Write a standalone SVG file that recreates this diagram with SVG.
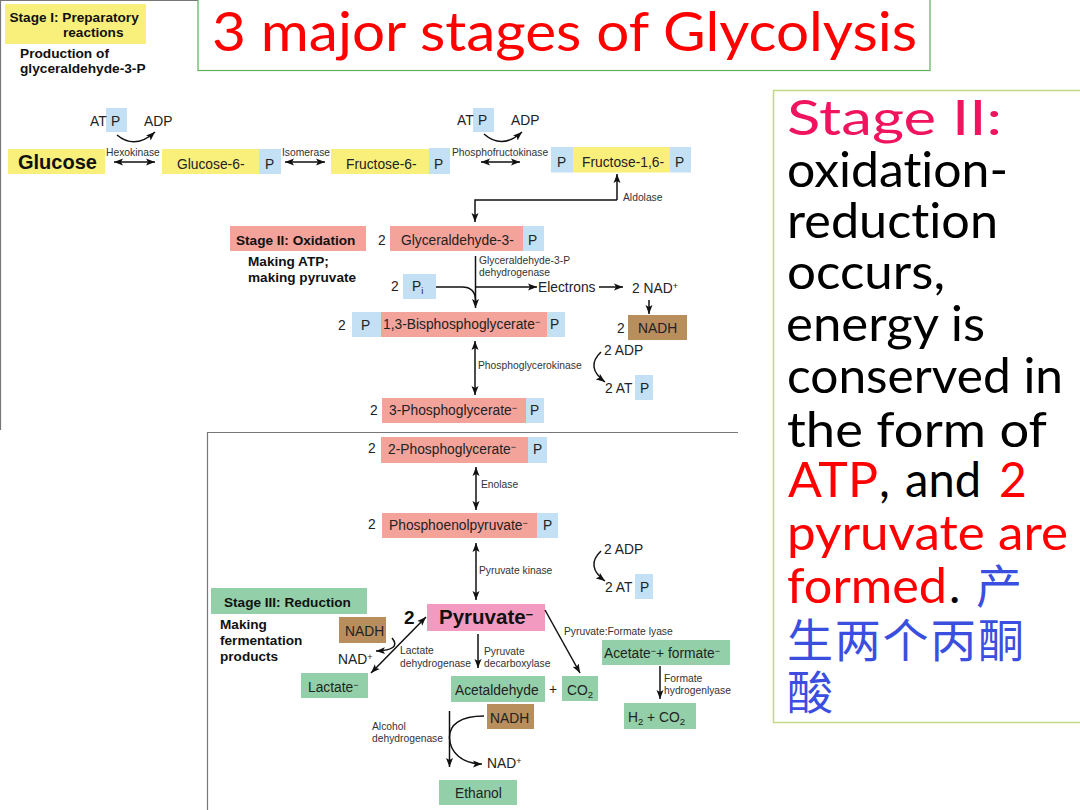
<svg xmlns="http://www.w3.org/2000/svg" width="1080" height="810" viewBox="0 0 1080 810">
<style>
text{font-family:"Liberation Sans",Arial,sans-serif;fill:#222;font-size:13.800px}
.b{font-weight:bold;fill:#111;font-size:13.600px}
.bb{font-size:13.700px}
.s{font-size:10.300px;fill:#333}
.big{font-family:Lato,"Noto Sans","Noto Sans CJK SC",sans-serif;font-size:48px;fill:#000;font-variant-ligatures:none}
.ttl{font-size:54px}
.red{fill:#f00}.pk{fill:#f0135f}
.cjk{font-family:"Noto Sans CJK SC",sans-serif;font-size:46px;fill:#3a4fe0}
.y{fill:#f9f07c}.bl{fill:#c4e0f4}.r{fill:#f4a39a}.g{fill:#93cfa8}.br{fill:#b88e5c}.pn{fill:#f29ac0}
.c{fill:none;stroke:#111;stroke-width:1.500}
.a{marker-end:url(#ah)}
.d{marker-start:url(#as);marker-end:url(#ah)}
.p{fill:none;stroke:#777;stroke-width:1.200}
.sup{font-size:9px}.sub{font-size:9.500px}
</style>
<defs>
<marker id="ah" markerUnits="userSpaceOnUse" markerWidth="10" markerHeight="8" refX="9" refY="4" orient="auto"><path d="M0 0.500L9 4L0 7.500L2 4Z" fill="#111"/></marker>
<marker id="as" markerUnits="userSpaceOnUse" markerWidth="10" markerHeight="8" refX="1" refY="4" orient="auto"><path d="M10 0.500L1 4L10 7.500L8 4Z" fill="#111"/></marker>
</defs>
<rect width="1080" height="810" fill="#fff"/>
<path class="p" d="M710 0.500H0.500V430"/>
<path class="p" d="M207.500 810V432.500H738"/>

<g id="title"><rect x="198" y="-2" width="732" height="72.500" fill="#fff" stroke="#5cb05c" stroke-width="1.200"/>
<text class="big ttl red" x="212" y="51" textLength="705" lengthAdjust="spacingAndGlyphs">3 major stages of Glycolysis</text></g>

<g id="side-note"><rect x="773.500" y="90.500" width="310" height="632" fill="#fff" stroke="#c4d88a" stroke-width="1.500"/>
<text class="big pk" x="787" y="135" textLength="215" lengthAdjust="spacingAndGlyphs">Stage II:</text>
<text class="big" x="787" y="187" textLength="221" lengthAdjust="spacingAndGlyphs">oxidation-</text>
<text class="big" x="787" y="238" textLength="211" lengthAdjust="spacingAndGlyphs">reduction</text>
<text class="big" x="787" y="289" textLength="158" lengthAdjust="spacingAndGlyphs">occurs,</text>
<text class="big" x="786" y="341" textLength="199" lengthAdjust="spacingAndGlyphs">energy is</text>
<text class="big" x="787" y="393" textLength="276" lengthAdjust="spacingAndGlyphs">conserved in</text>
<text class="big" x="787" y="447" textLength="260" lengthAdjust="spacingAndGlyphs">the form of</text>
<text class="big red" x="788" y="497" textLength="90" lengthAdjust="spacingAndGlyphs">ATP</text>
<text class="big" x="879" y="497">,</text>
<text class="big" x="905" y="497" textLength="76" lengthAdjust="spacingAndGlyphs">and</text>
<text class="big red" x="999" y="497">2</text>
<text class="big red" x="787" y="550" textLength="281" lengthAdjust="spacingAndGlyphs">pyruvate are</text>
<text class="big red" x="787" y="603" textLength="160" lengthAdjust="spacingAndGlyphs">formed</text>
<text class="big" x="949" y="603">.</text>
<text class="cjk" x="976" y="603">产</text>
<text class="cjk" x="787" y="657" textLength="237">生两个丙酮</text>
<text class="cjk" x="787" y="709">酸</text></g>

<g id="stage1-label"><rect class="y" x="5" y="4" width="141" height="40"/>
<text class="b" x="9.500" y="22">Stage I: Preparatory</text><text class="b" x="63" y="37">reactions</text>
<text class="b bb" x="20" y="58">Production of</text><text class="b bb" x="20" y="73">glyceraldehyde-3-P</text></g>

<g id="atp1"><rect class="bl" x="106" y="108" width="21" height="24"/><text x="90" y="126">AT</text><text x="111" y="126">P</text><text x="144" y="126">ADP</text></g>
<g id="glucose"><rect class="y" x="8" y="149" width="97" height="25"/><text class="b" x="18" y="169" style="font-size:20px">Glucose</text></g>
<g id="g6p"><rect class="y" x="162" y="149" width="97" height="25"/><rect class="bl" x="259" y="149" width="22" height="25"/><text x="177" y="169">Glucose-6-</text><text x="265" y="169">P</text></g>
<g id="f6p"><rect class="y" x="331" y="149" width="98" height="25"/><rect class="bl" x="429" y="148" width="21" height="26"/><text x="346" y="169">Fructose-6-</text><text x="434" y="169">P</text></g>
<g id="atp2"><rect class="bl" x="473" y="108" width="21" height="24"/><text x="457" y="125">AT</text><text x="478" y="125">P</text><text x="511" y="125">ADP</text></g>
<g id="f16bp"><rect class="bl" x="551" y="147" width="22" height="25.500"/><rect class="y" x="573" y="147" width="97" height="25.500"/><rect class="bl" x="670" y="147" width="21" height="25.500"/><text x="557" y="167">P</text><text x="582" y="167">Fructose-1,6-</text><text x="675" y="167">P</text></g>

<g id="stage2-label"><rect class="r" x="230" y="226" width="136" height="25"/><text class="b" x="236" y="245">Stage II: Oxidation</text>
<text class="b" x="248" y="266">Making ATP;</text><text class="b" x="248" y="282">making pyruvate</text></g>
<g id="g3p"><text x="378" y="245">2</text><rect class="r" x="390" y="226" width="133" height="25"/><rect class="bl" x="523" y="226" width="21" height="25"/><text x="401" y="245">Glyceraldehyde-3-</text><text x="528" y="245">P</text></g>
<g id="pi"><text x="391" y="291">2</text><rect class="bl" x="403" y="274" width="33" height="25"/><text x="412" y="291">P<tspan class="sub" dy="3">i</tspan></text></g>
<g id="electrons"><text x="538" y="292">Electrons</text></g>
<g id="nad1"><text x="632" y="293">2 NAD<tspan class="sup" dy="-4">+</tspan></text></g>
<g id="nadh1"><text x="617" y="333">2</text><rect class="br" x="628" y="315" width="59" height="25"/><text x="638" y="333">NADH</text></g>
<g id="bpg"><text x="338" y="330">2</text><rect class="bl" x="352" y="312" width="29" height="25"/><rect class="r" x="381" y="312" width="166" height="25"/><rect class="bl" x="547" y="312" width="18" height="25"/><text x="361" y="330">P</text><text x="383" y="329">1,3-Bisphosphoglycerate<tspan class="sup" dy="-4">−</tspan></text><text x="550" y="329">P</text></g>
<g id="adp3"><text x="604" y="355">2 ADP</text></g>
<g id="atp3"><text x="605" y="393">2 AT</text><rect class="bl" x="635" y="375" width="18" height="25"/><text x="640" y="393">P</text></g>
<g id="pg3"><text x="370" y="415">2</text><rect class="r" x="382" y="398" width="144" height="25"/><rect class="bl" x="526" y="398" width="18" height="25"/><text x="389" y="415">3-Phosphoglycerate<tspan class="sup" dy="-4">−</tspan></text><text x="530" y="415">P</text></g>
<g id="pg2"><text x="368" y="453">2</text><rect class="r" x="381" y="437" width="147" height="26"/><rect class="bl" x="528" y="437" width="19" height="26"/><text x="388" y="454">2-Phosphoglycerate<tspan class="sup" dy="-4">−</tspan></text><text x="533" y="454">P</text></g>
<g id="pep"><text x="368" y="529">2</text><rect class="r" x="382" y="513" width="155" height="25"/><rect class="bl" x="537" y="513" width="21" height="25"/><text x="389" y="530">Phosphoenolpyruvate<tspan class="sup" dy="-4">−</tspan></text><text x="543" y="530">P</text></g>
<g id="adp4"><text x="604" y="554">2 ADP</text></g>
<g id="atp4"><text x="605" y="592">2 AT</text><rect class="bl" x="635" y="574" width="18" height="25"/><text x="640" y="592">P</text></g>
<g id="stage3-label"><rect class="g" x="211" y="588" width="156" height="26"/><text class="b" x="224" y="607">Stage III: Reduction</text>
<text class="b" x="220" y="629">Making</text><text class="b" x="220" y="645">fermentation</text><text class="b" x="220" y="661">products</text></g>
<g id="pyruvate"><text class="b" x="404" y="624" style="font-size:19px">2</text><rect class="pn" x="427" y="604" width="118" height="27"/><text class="b" x="439" y="624" style="font-size:20.500px">Pyruvate<tspan dy="-5" style="font-size:13px">−</tspan></text></g>
<g id="nadh2"><rect class="br" x="339" y="617" width="47" height="26"/><text x="345" y="636">NADH</text></g>
<g id="nad2"><text x="338" y="664">NAD<tspan class="sup" dy="-4">+</tspan></text></g>
<g id="lactate"><rect class="g" x="301" y="673" width="67" height="25"/><text x="308" y="692">Lactate<tspan class="sup" dy="-4">−</tspan></text></g>
<g id="acetaldehyde"><rect class="g" x="451" y="676" width="94" height="26"/><text x="455" y="695">Acetaldehyde</text><text x="549" y="694">+</text></g>
<g id="co2"><rect class="g" x="562" y="676" width="36" height="25"/><text x="567" y="695">CO<tspan class="sub" dy="3">2</tspan></text></g>
<g id="acetate"><rect class="g" x="602" y="640" width="128" height="25"/><text x="604" y="658">Acetate<tspan class="sup" dy="-4">−</tspan><tspan dy="4">+ formate</tspan><tspan class="sup" dy="-4">−</tspan></text></g>
<g id="h2co2"><rect class="g" x="624" y="703" width="72" height="26"/><text x="628" y="722">H<tspan class="sub" dy="3">2</tspan><tspan dy="-3"> + CO</tspan><tspan class="sub" dy="3">2</tspan></text></g>
<g id="nadh3"><rect class="br" x="487" y="704" width="47" height="25"/><text x="490" y="723">NADH</text></g>
<g id="nad3"><text x="487" y="768">NAD<tspan class="sup" dy="-4">+</tspan></text></g>
<g id="ethanol"><rect class="g" x="439" y="780" width="78" height="25"/><text x="455" y="798">Ethanol</text></g>

<g id="enzyme-labels">
<text class="s" x="106" y="156">Hexokinase</text><text class="s" x="282" y="156">Isomerase</text><text class="s" x="452" y="156">Phosphofructokinase</text><text class="s" x="623" y="201">Aldolase</text>
<text class="s" x="479" y="264">Glyceraldehyde-3-P</text><text class="s" x="479" y="276">dehydrogenase</text>
<text class="s" x="478" y="369">Phosphoglycerokinase</text><text class="s" x="481" y="488">Enolase</text><text class="s" x="479" y="574">Pyruvate kinase</text>
<text class="s" x="400" y="654">Lactate</text><text class="s" x="400" y="667">dehydrogenase</text>
<text class="s" x="484" y="655">Pyruvate</text><text class="s" x="484" y="667">decarboxylase</text>
<text class="s" x="564" y="635">Pyruvate:Formate lyase</text>
<text class="s" x="664" y="682">Formate</text><text class="s" x="664" y="694">hydrogenlyase</text>
<text class="s" x="372" y="730">Alcohol</text><text class="s" x="372" y="742">dehydrogenase</text>
</g>

<g id="connectors">
<path class="c a" d="M117 135Q135 150 155 132"/>
<path class="c d" d="M114 162H155"/>
<path class="c d" d="M285 162H325"/>
<path class="c a" d="M484 134Q502 150 522 132"/>
<path class="c d" d="M481 162H520"/>
<path class="c a" d="M617 200H475V222"/>
<path class="c a" d="M617 200V174"/>
<path class="c a" d="M475.500 256V308"/>
<path class="c" d="M436 287H462Q475 287 475.500 300"/>
<path class="c a" d="M475.500 287H537"/>
<path class="c a" d="M599 287H623"/>
<path class="c a" d="M649 300V314"/>
<path class="c d" d="M475 341V395"/>
<path class="c a" d="M601 352Q585 367 605 382"/>
<path class="c d" d="M476 467V510"/>
<path class="c d" d="M476 543V600"/>
<path class="c a" d="M601 551Q585 566 605 581"/>
<path class="c d" d="M426 617L371 673"/>
<path class="c a" d="M392 638Q402 650 376 651"/>
<path class="c a" d="M478 634V668"/>
<path class="c a" d="M545 610L580 673"/>
<path class="c a" d="M660 666V699"/>
<path class="c a" d="M449.500 711V767"/>
<path class="c a" d="M484 716C460 716 449 725 449.500 738C450 752 462 764 482 764"/>
</g>
</svg>
